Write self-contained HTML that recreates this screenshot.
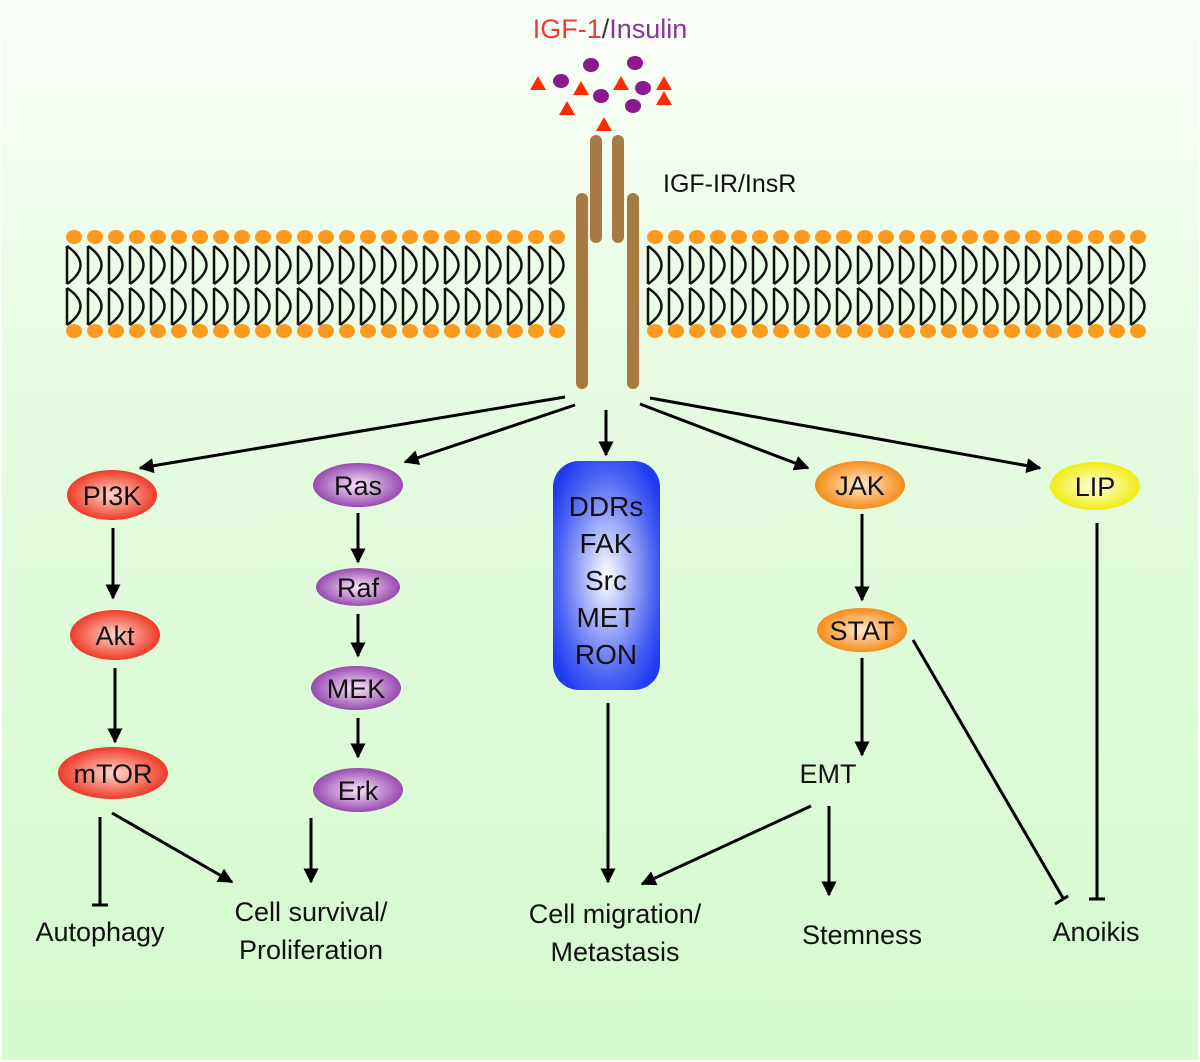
<!DOCTYPE html>
<html><head><meta charset="utf-8"><style>
html,body{margin:0;padding:0;background:#fff;}
svg{display:block;}
text{font-family:"Liberation Sans",Arial,sans-serif;}
</style></head><body>
<svg width="1200" height="1062" viewBox="0 0 1200 1062" xmlns="http://www.w3.org/2000/svg">
<defs>
<linearGradient id="bg" x1="0" y1="0" x2="0" y2="1">
<stop offset="0" stop-color="#fbfffa"/><stop offset="0.35" stop-color="#e6fbe2"/><stop offset="1" stop-color="#d3fbcc"/>
</linearGradient>
<radialGradient id="gr"><stop offset="0" stop-color="#ffd8cc"/><stop offset="1" stop-color="#ee3a28"/></radialGradient>
<radialGradient id="gp"><stop offset="0" stop-color="#f8e6f8"/><stop offset="1" stop-color="#974ab0"/></radialGradient>
<radialGradient id="go"><stop offset="0" stop-color="#ffead0"/><stop offset="1" stop-color="#f58c18"/></radialGradient>
<radialGradient id="gy"><stop offset="0" stop-color="#ffffe6"/><stop offset="1" stop-color="#f0ec10"/></radialGradient>
<radialGradient id="gb" cx="0.5" cy="0.5" r="0.6"><stop offset="0" stop-color="#ffffff"/><stop offset="0.75" stop-color="#4a62f2"/><stop offset="1" stop-color="#1f3cf0"/></radialGradient>
<marker id="ar" viewBox="0 0 10 10" refX="9" refY="5" markerWidth="5.5" markerHeight="5" orient="auto" markerUnits="strokeWidth"><path d="M0,0 L10,5 L0,10 z" fill="#000"/></marker>
<g id="L"><path d="M-7,246 L-7,284 M-7,246 Q20,265 -7,284 M-7,288 L-7,325 M-7,325 Q20,306 -7,288" stroke="#111" stroke-width="2.5" fill="none"/></g>
</defs>
<rect x="2" y="2" width="1196" height="1058" fill="url(#bg)"/>

<text x="610" y="38" font-size="27" text-anchor="middle"><tspan fill="#ee3b2e">IGF-1</tspan><tspan fill="#333">/</tspan><tspan fill="#8b34a0">Insulin</tspan></text>
<text x="663" y="192" font-size="25" fill="#111">IGF-IR/InsR</text>

<g fill="#ff2a00">
<polygon points="538,76 546,90 530,90"/><polygon points="581,81 589,95 573,95"/><polygon points="567,101 575,115 559,115"/>
<polygon points="621,76 629,90 613,90"/><polygon points="664,76 672,90 656,90"/><polygon points="664,91 672,105 656,105"/>
<polygon points="604,117 612,131 596,131"/>
</g>
<g fill="#8b1a8e">
<ellipse cx="591" cy="65" rx="8" ry="7"/><ellipse cx="635" cy="63" rx="8" ry="7"/><ellipse cx="561" cy="81" rx="8" ry="7"/>
<ellipse cx="601" cy="96" rx="8" ry="7"/><ellipse cx="643" cy="88" rx="8" ry="7"/><ellipse cx="633" cy="106" rx="8" ry="7"/>
</g>

<use href="#L" x="74"/><use href="#L" x="95"/><use href="#L" x="116"/><use href="#L" x="137"/><use href="#L" x="158"/><use href="#L" x="179"/><use href="#L" x="200"/><use href="#L" x="221"/><use href="#L" x="242"/><use href="#L" x="263"/><use href="#L" x="284"/><use href="#L" x="305"/><use href="#L" x="326"/><use href="#L" x="347"/><use href="#L" x="368"/><use href="#L" x="389"/><use href="#L" x="410"/><use href="#L" x="431"/><use href="#L" x="452"/><use href="#L" x="473"/><use href="#L" x="494"/><use href="#L" x="515"/><use href="#L" x="536"/><use href="#L" x="557"/>
<use href="#L" x="655"/><use href="#L" x="676"/><use href="#L" x="697"/><use href="#L" x="718"/><use href="#L" x="739"/><use href="#L" x="760"/><use href="#L" x="781"/><use href="#L" x="802"/><use href="#L" x="823"/><use href="#L" x="844"/><use href="#L" x="865"/><use href="#L" x="886"/><use href="#L" x="907"/><use href="#L" x="928"/><use href="#L" x="949"/><use href="#L" x="970"/><use href="#L" x="991"/><use href="#L" x="1012"/><use href="#L" x="1033"/><use href="#L" x="1054"/><use href="#L" x="1075"/><use href="#L" x="1096"/><use href="#L" x="1117"/><use href="#L" x="1138"/>

<g fill="#fb9a1e">
<ellipse cx="74" cy="237" rx="8" ry="7"/><ellipse cx="95" cy="237" rx="8" ry="7"/><ellipse cx="116" cy="237" rx="8" ry="7"/><ellipse cx="137" cy="237" rx="8" ry="7"/><ellipse cx="158" cy="237" rx="8" ry="7"/><ellipse cx="179" cy="237" rx="8" ry="7"/><ellipse cx="200" cy="237" rx="8" ry="7"/><ellipse cx="221" cy="237" rx="8" ry="7"/><ellipse cx="242" cy="237" rx="8" ry="7"/><ellipse cx="263" cy="237" rx="8" ry="7"/><ellipse cx="284" cy="237" rx="8" ry="7"/><ellipse cx="305" cy="237" rx="8" ry="7"/><ellipse cx="326" cy="237" rx="8" ry="7"/><ellipse cx="347" cy="237" rx="8" ry="7"/><ellipse cx="368" cy="237" rx="8" ry="7"/><ellipse cx="389" cy="237" rx="8" ry="7"/><ellipse cx="410" cy="237" rx="8" ry="7"/><ellipse cx="431" cy="237" rx="8" ry="7"/><ellipse cx="452" cy="237" rx="8" ry="7"/><ellipse cx="473" cy="237" rx="8" ry="7"/><ellipse cx="494" cy="237" rx="8" ry="7"/><ellipse cx="515" cy="237" rx="8" ry="7"/><ellipse cx="536" cy="237" rx="8" ry="7"/><ellipse cx="557" cy="237" rx="8" ry="7"/>
<ellipse cx="74" cy="331" rx="8" ry="7"/><ellipse cx="95" cy="331" rx="8" ry="7"/><ellipse cx="116" cy="331" rx="8" ry="7"/><ellipse cx="137" cy="331" rx="8" ry="7"/><ellipse cx="158" cy="331" rx="8" ry="7"/><ellipse cx="179" cy="331" rx="8" ry="7"/><ellipse cx="200" cy="331" rx="8" ry="7"/><ellipse cx="221" cy="331" rx="8" ry="7"/><ellipse cx="242" cy="331" rx="8" ry="7"/><ellipse cx="263" cy="331" rx="8" ry="7"/><ellipse cx="284" cy="331" rx="8" ry="7"/><ellipse cx="305" cy="331" rx="8" ry="7"/><ellipse cx="326" cy="331" rx="8" ry="7"/><ellipse cx="347" cy="331" rx="8" ry="7"/><ellipse cx="368" cy="331" rx="8" ry="7"/><ellipse cx="389" cy="331" rx="8" ry="7"/><ellipse cx="410" cy="331" rx="8" ry="7"/><ellipse cx="431" cy="331" rx="8" ry="7"/><ellipse cx="452" cy="331" rx="8" ry="7"/><ellipse cx="473" cy="331" rx="8" ry="7"/><ellipse cx="494" cy="331" rx="8" ry="7"/><ellipse cx="515" cy="331" rx="8" ry="7"/><ellipse cx="536" cy="331" rx="8" ry="7"/><ellipse cx="557" cy="331" rx="8" ry="7"/>
<ellipse cx="655" cy="237" rx="8" ry="7"/><ellipse cx="676" cy="237" rx="8" ry="7"/><ellipse cx="697" cy="237" rx="8" ry="7"/><ellipse cx="718" cy="237" rx="8" ry="7"/><ellipse cx="739" cy="237" rx="8" ry="7"/><ellipse cx="760" cy="237" rx="8" ry="7"/><ellipse cx="781" cy="237" rx="8" ry="7"/><ellipse cx="802" cy="237" rx="8" ry="7"/><ellipse cx="823" cy="237" rx="8" ry="7"/><ellipse cx="844" cy="237" rx="8" ry="7"/><ellipse cx="865" cy="237" rx="8" ry="7"/><ellipse cx="886" cy="237" rx="8" ry="7"/><ellipse cx="907" cy="237" rx="8" ry="7"/><ellipse cx="928" cy="237" rx="8" ry="7"/><ellipse cx="949" cy="237" rx="8" ry="7"/><ellipse cx="970" cy="237" rx="8" ry="7"/><ellipse cx="991" cy="237" rx="8" ry="7"/><ellipse cx="1012" cy="237" rx="8" ry="7"/><ellipse cx="1033" cy="237" rx="8" ry="7"/><ellipse cx="1054" cy="237" rx="8" ry="7"/><ellipse cx="1075" cy="237" rx="8" ry="7"/><ellipse cx="1096" cy="237" rx="8" ry="7"/><ellipse cx="1117" cy="237" rx="8" ry="7"/><ellipse cx="1138" cy="237" rx="8" ry="7"/>
<ellipse cx="655" cy="331" rx="8" ry="7"/><ellipse cx="676" cy="331" rx="8" ry="7"/><ellipse cx="697" cy="331" rx="8" ry="7"/><ellipse cx="718" cy="331" rx="8" ry="7"/><ellipse cx="739" cy="331" rx="8" ry="7"/><ellipse cx="760" cy="331" rx="8" ry="7"/><ellipse cx="781" cy="331" rx="8" ry="7"/><ellipse cx="802" cy="331" rx="8" ry="7"/><ellipse cx="823" cy="331" rx="8" ry="7"/><ellipse cx="844" cy="331" rx="8" ry="7"/><ellipse cx="865" cy="331" rx="8" ry="7"/><ellipse cx="886" cy="331" rx="8" ry="7"/><ellipse cx="907" cy="331" rx="8" ry="7"/><ellipse cx="928" cy="331" rx="8" ry="7"/><ellipse cx="949" cy="331" rx="8" ry="7"/><ellipse cx="970" cy="331" rx="8" ry="7"/><ellipse cx="991" cy="331" rx="8" ry="7"/><ellipse cx="1012" cy="331" rx="8" ry="7"/><ellipse cx="1033" cy="331" rx="8" ry="7"/><ellipse cx="1054" cy="331" rx="8" ry="7"/><ellipse cx="1075" cy="331" rx="8" ry="7"/><ellipse cx="1096" cy="331" rx="8" ry="7"/><ellipse cx="1117" cy="331" rx="8" ry="7"/><ellipse cx="1138" cy="331" rx="8" ry="7"/>
</g>

<g fill="#a87942">
<rect x="590" y="135" width="12" height="108" rx="6"/><rect x="612" y="135" width="12" height="108" rx="6"/>
<rect x="576" y="193" width="12" height="196" rx="6"/><rect x="627" y="193" width="12" height="196" rx="6"/>
</g>

<g stroke="#000" stroke-width="3" fill="none" marker-end="url(#ar)">
<line x1="565" y1="397" x2="140" y2="468"/>
<line x1="575" y1="405" x2="405" y2="462"/>
<line x1="606" y1="410" x2="606" y2="455"/>
<line x1="640" y1="404" x2="808" y2="468"/>
<line x1="650" y1="398" x2="1040" y2="468"/>
<line x1="113" y1="528" x2="113" y2="598"/>
<line x1="115" y1="668" x2="115" y2="742"/>
<line x1="358" y1="513" x2="358" y2="562"/>
<line x1="358" y1="614" x2="358" y2="656"/>
<line x1="358" y1="718" x2="358" y2="757"/>
<line x1="862" y1="514" x2="862" y2="600"/>
<line x1="862" y1="658" x2="862" y2="755"/>
<line x1="112" y1="813" x2="232" y2="882"/>
<line x1="311" y1="818" x2="311" y2="882"/>
<line x1="608" y1="703" x2="608" y2="882"/>
<line x1="811" y1="806" x2="642" y2="884"/>
<line x1="829" y1="806" x2="829" y2="895"/>
</g>
<g stroke="#000" stroke-width="3" fill="none">
<line x1="100" y1="817" x2="100" y2="905"/><line x1="92" y1="905" x2="108" y2="905"/>
<line x1="913" y1="640" x2="1063" y2="898"/><line x1="1055" y1="904" x2="1068" y2="896"/>
<line x1="1097" y1="523" x2="1097" y2="899"/><line x1="1089" y1="899" x2="1105" y2="899"/>
</g>

<g font-size="27" text-anchor="middle" fill="#111">
<ellipse cx="112" cy="495" rx="45" ry="25" fill="url(#gr)"/><text x="112" y="505">PI3K</text>
<ellipse cx="115" cy="635" rx="45" ry="25" fill="url(#gr)"/><text x="115" y="645">Akt</text>
<ellipse cx="113" cy="773" rx="55" ry="26" fill="url(#gr)"/><text x="113" y="783">mTOR</text>
<ellipse cx="358" cy="485" rx="45" ry="22" fill="url(#gp)"/><text x="358" y="495">Ras</text>
<ellipse cx="358" cy="587" rx="42" ry="19" fill="url(#gp)"/><text x="358" y="597">Raf</text>
<ellipse cx="356" cy="688" rx="45" ry="22" fill="url(#gp)"/><text x="356" y="698">MEK</text>
<ellipse cx="358" cy="790" rx="45" ry="22" fill="url(#gp)"/><text x="358" y="800">Erk</text>
<ellipse cx="860" cy="485" rx="45" ry="24" fill="url(#go)"/><text x="860" y="495">JAK</text>
<ellipse cx="862" cy="630" rx="45" ry="22" fill="url(#go)"/><text x="862" y="640">STAT</text>
<ellipse cx="1095" cy="486" rx="45" ry="24" fill="url(#gy)"/><text x="1095" y="496">LIP</text>
<rect x="553" y="461" width="107" height="229" rx="26" fill="url(#gb)"/>
<g font-size="28"><text x="606" y="516">DDRs</text><text x="606" y="553">FAK</text><text x="606" y="590">Src</text><text x="606" y="627">MET</text><text x="606" y="664">RON</text></g>
<text x="828" y="783">EMT</text>
<text x="100" y="941">Autophagy</text>
<text x="311" y="921">Cell survival/</text><text x="311" y="959">Proliferation</text>
<text x="615" y="923">Cell migration/</text><text x="615" y="961">Metastasis</text>
<text x="862" y="944">Stemness</text>
<text x="1096" y="941">Anoikis</text>
</g>
</svg>
</body></html>
